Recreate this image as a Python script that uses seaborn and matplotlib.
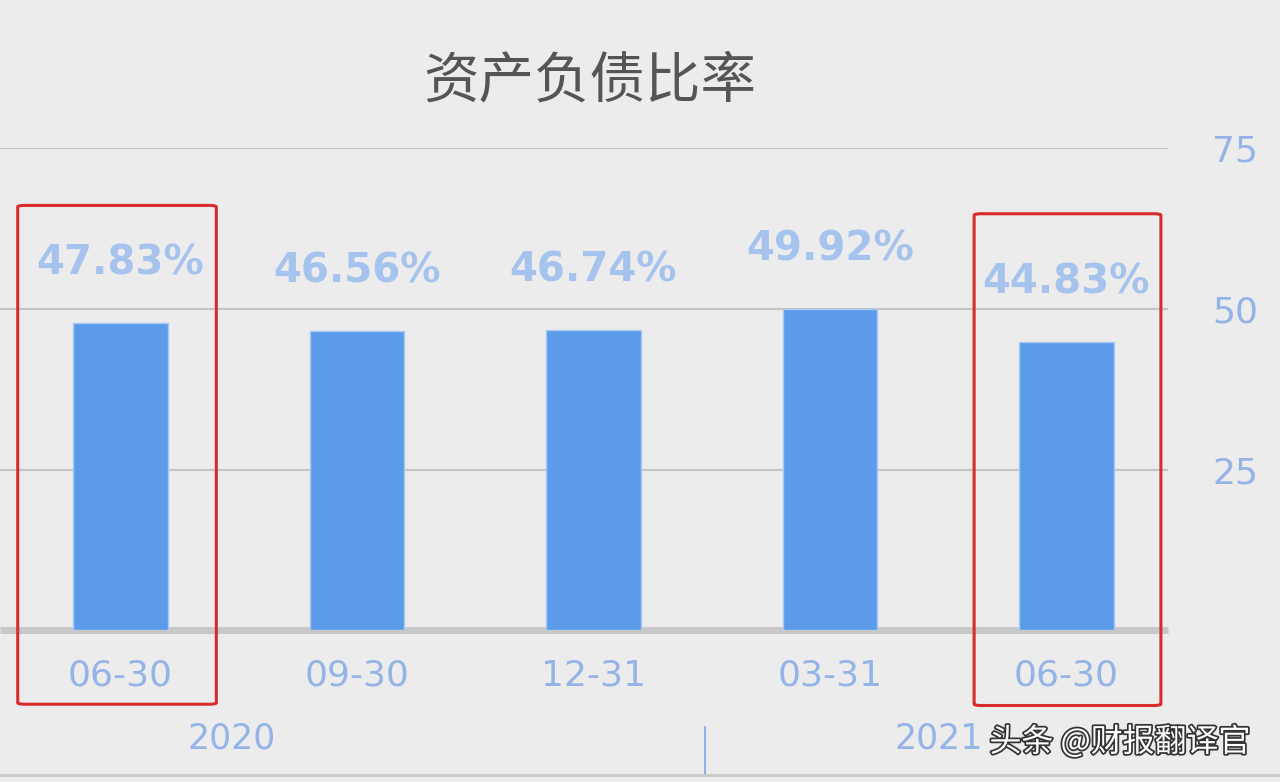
import numpy as np
import pandas as pd
import matplotlib
matplotlib.use('Agg')
import matplotlib.pyplot as plt
import seaborn as sns
from matplotlib.patches import FancyBboxPatch
import matplotlib.patheffects as pe

# data
periods = ['2020-06-30', '2020-09-30', '2020-12-31', '2021-03-31', '2021-06-30']
tick_labels = ['06-30', '09-30', '12-31', '03-31', '06-30']
ratios = [47.83, 46.56, 46.74, 49.92, 44.83]
years = ['2020', '2021']
year_pos = [0.47, 3.46]
title = '资产负债比率'
watermark = '头条 @财报翻译官'

df = pd.DataFrame({'period': periods, 'ratio': ratios})

sns.set_theme(style='white')
plt.rcParams['font.family'] = ['DejaVu Sans', 'Noto Sans CJK SC']
cjk = ['Noto Sans CJK SC', 'DejaVu Sans']

bg = '#ececec'
bar_color = '#5b9bea'
light_blue = '#a6c3ee'
tick_blue = '#94b4e8'

fig = plt.figure(figsize=(12.8, 7.82), dpi=100, facecolor=bg)
ax = fig.add_axes([0.0, 0.194, 0.9125, 0.6165], facecolor=bg)

sns.barplot(data=df, x='period', y='ratio', order=periods, color=bar_color,
            width=0.4, saturation=1, edgecolor='#a9c9f2', linewidth=1, ax=ax, zorder=3)

ax.set_xlim(-0.51, 4.43)
ax.set_ylim(0, 75)
ax.set_yticks([25, 50, 75])
ax.yaxis.grid(True, color='#c4c4c4', linewidth=1.5, zorder=0)
ax.set_axisbelow(True)
ax.yaxis.tick_right()
ax.tick_params(axis='y', length=0, pad=32, labelsize=26, labelcolor=tick_blue)
ax.tick_params(axis='x', length=0, pad=20, labelsize=26, labelcolor=tick_blue)
ax.set_xticks(range(len(periods)))
ax.set_xticklabels(tick_labels)
ax.set_xlabel('')
ax.set_ylabel('')
for s in ['top', 'left', 'right']:
    ax.spines[s].set_visible(False)
ax.spines['bottom'].set_color('#c8c8c8')
ax.spines['bottom'].set_linewidth(5)
ax.spines['bottom'].set_capstyle('butt')

# value labels
for i, v in enumerate(ratios):
    ax.text(i, v + 9.3, f'{v:.2f}%', ha='center', va='center',
            fontsize=29, color=light_blue, fontweight='bold', zorder=4)

# red highlight boxes: (left, width, bottom, height) in data units
boxes = [(-0.435, 0.84, -11.5, 77.6), (3.61, 0.79, -11.7, 76.5)]
for x0, w, y0, h in boxes:
    box = FancyBboxPatch((x0, y0), w, h,
                         boxstyle='round,pad=0,rounding_size=0.03',
                         mutation_aspect=8, fill=False, edgecolor='#d92b2b',
                         linewidth=2.2, clip_on=False, zorder=5)
    ax.add_patch(box)

# year labels and separator
for yr, xp in zip(years, year_pos):
    ax.text(xp, -16.8, yr, ha='center', va='center', fontsize=25,
            color=tick_blue, clip_on=False)
ax.plot([2.47, 2.47], [-15, -22.5], color='#8fb2e6', linewidth=1.5, clip_on=False)

fig.text(0.461, 0.895, title, ha='center', va='center', fontsize=40,
         color='#555555', family=cjk)

fig.add_artist(plt.Line2D([0, 1], [0.009, 0.009], color='#c8c8c8', linewidth=2))

fig.text(0.773, 0.051, watermark, ha='left', va='center', fontsize=23, color='white',
         family=cjk, path_effects=[pe.withStroke(linewidth=2.5, foreground='#333333')])

fig.savefig('out.png', dpi=100, facecolor=bg)
print('saved out.png')
